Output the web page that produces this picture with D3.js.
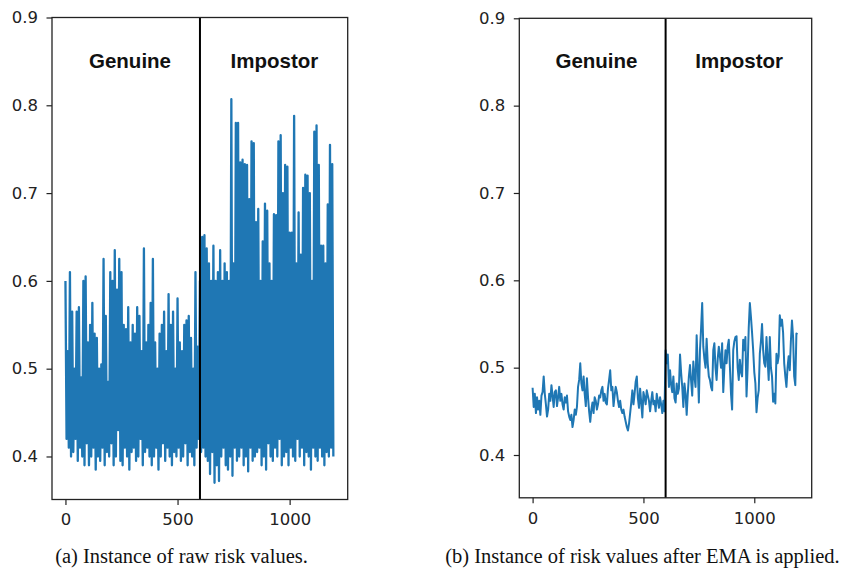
<!DOCTYPE html>
<html>
<head>
<meta charset="utf-8">
<script src="https://cdn.jsdelivr.net/npm/d3@7"></script>
<style>
  body { margin: 0; background: #fff; }
  svg { display: block; }
</style>
</head>
<body>
<svg id="chart"></svg>
<script>
// sample spacing: one value every 5 samples (0 .. 1195)
const sampleStep = 5;
const splitAt = 600;

// raw risk values, alternating peak / trough
const rawValues = [
  0.60,0.42, 0.52,0.41, 0.61,0.40, 0.565,0.405, 0.50,0.42,
  0.565,0.395, 0.57,0.41, 0.49,0.40, 0.60,0.39, 0.605,0.415,
  0.53,0.39, 0.55,0.40, 0.575,0.41, 0.54,0.385, 0.535,0.40,
  0.50,0.395, 0.505,0.41, 0.625,0.39, 0.56,0.405, 0.485,0.40,
  0.61,0.415, 0.60,0.39, 0.635,0.40, 0.59,0.43, 0.625,0.395,
  0.61,0.39, 0.55,0.41, 0.545,0.40, 0.57,0.385, 0.53,0.405,
  0.55,0.41, 0.54,0.395, 0.57,0.40, 0.56,0.42, 0.52,0.39,
  0.637,0.405, 0.53,0.41, 0.55,0.40, 0.575,0.39, 0.625,0.40,
  0.53,0.41, 0.50,0.385, 0.54,0.40, 0.55,0.415, 0.565,0.395,
  0.52,0.41, 0.585,0.40, 0.55,0.39, 0.565,0.405, 0.50,0.40,
  0.58,0.41, 0.53,0.395, 0.52,0.40, 0.55,0.415, 0.555,0.39,
  0.56,0.405, 0.535,0.40, 0.50,0.39, 0.61,0.41, 0.525,0.42,
  0.60,0.405, 0.65,0.41, 0.652,0.40, 0.637,0.395, 0.62,0.38,
  0.60,0.405, 0.64,0.37, 0.60,0.39, 0.61,0.372, 0.635,0.40,
  0.60,0.41, 0.62,0.39, 0.61,0.385, 0.60,0.40, 0.807,0.378,
  0.62,0.41, 0.78,0.395, 0.78,0.40, 0.735,0.41, 0.738,0.39,
  0.733,0.40, 0.732,0.383, 0.693,0.41, 0.759,0.395, 0.757,0.40,
  0.667,0.405, 0.682,0.41, 0.60,0.39, 0.645,0.40, 0.688,0.385,
  0.68,0.415, 0.62,0.40, 0.60,0.395, 0.676,0.41, 0.675,0.40,
  0.759,0.42, 0.766,0.39, 0.70,0.40, 0.732,0.405, 0.73,0.39,
  0.655,0.41, 0.655,0.40, 0.788,0.395, 0.62,0.42, 0.678,0.40,
  0.63,0.41, 0.706,0.39, 0.721,0.405, 0.72,0.40, 0.70,0.385,
  0.60,0.41, 0.77,0.40, 0.777,0.395, 0.732,0.41, 0.64,0.40,
  0.64,0.39, 0.62,0.405, 0.687,0.40, 0.755,0.41, 0.733,0.40
];

// risk values after EMA
const emaValues = [
  0.477,0.455,0.470,0.448,0.466,0.452,0.462,0.446,0.468,0.472,
  0.490,0.470,0.458,0.444,0.452,0.470,0.462,0.480,0.468,0.455,
  0.472,0.474,0.456,0.466,0.478,0.462,0.470,0.458,0.452,0.466,
  0.460,0.468,0.450,0.444,0.440,0.446,0.432,0.440,0.452,0.446,
  0.455,0.478,0.486,0.505,0.482,0.474,0.490,0.470,0.456,0.488,
  0.466,0.450,0.438,0.452,0.460,0.448,0.466,0.462,0.452,0.458,
  0.468,0.466,0.474,0.478,0.462,0.470,0.460,0.458,0.476,0.486,
  0.497,0.474,0.478,0.456,0.468,0.478,0.472,0.462,0.455,0.462,
  0.452,0.448,0.452,0.444,0.438,0.432,0.428,0.436,0.448,0.460,
  0.474,0.458,0.470,0.484,0.490,0.465,0.454,0.476,0.460,0.443,
  0.472,0.466,0.458,0.474,0.468,0.462,0.450,0.462,0.472,0.458,
  0.462,0.450,0.470,0.462,0.454,0.466,0.458,0.448,0.462,0.450,
  0.520,0.505,0.515,0.478,0.497,0.480,0.472,0.490,0.465,0.460,
  0.482,0.470,0.476,0.515,0.494,0.478,0.455,0.482,0.470,0.446,
  0.470,0.490,0.503,0.485,0.468,0.507,0.490,0.478,0.537,0.500,
  0.460,0.520,0.545,0.574,0.524,0.510,0.500,0.533,0.505,0.490,
  0.486,0.478,0.474,0.520,0.528,0.500,0.486,0.510,0.524,0.513,
  0.500,0.528,0.472,0.500,0.520,0.505,0.524,0.532,0.501,0.470,
  0.452,0.520,0.530,0.535,0.536,0.500,0.486,0.509,0.495,0.490,
  0.532,0.520,0.535,0.467,0.500,0.546,0.574,0.558,0.540,0.520,
  0.495,0.482,0.449,0.465,0.474,0.516,0.530,0.550,0.520,0.505,
  0.501,0.535,0.510,0.486,0.535,0.500,0.490,0.461,0.470,0.459,
  0.516,0.505,0.513,0.560,0.548,0.555,0.540,0.505,0.490,0.478,
  0.500,0.513,0.497,0.530,0.554,0.535,0.490,0.480,0.539,0.538
];

const xTicks = [0, 500, 1000];
const yTicks = [0.4, 0.5, 0.6, 0.7, 0.8, 0.9];
const zoneNames = ["Genuine", "Impostor"];
const zoneLabelX = [288, 932];
const zoneLabelY = 0.85;
const captions = [
  "(a) Instance of raw risk values.",
  "(b) Instance of risk values after EMA is applied."
];

const width = 843;
const height = 570;
const blue = "#1f77b4";
const ink = "#222";

const svg = d3.select("#chart")
  .attr("width", width)
  .attr("height", height)
  .attr("viewBox", `0 0 ${width} ${height}`);

const panels = [
  { values: rawValues, lw: 2.3, left: 52, right: 347.7, top: 17.5, bottom: 499.5, caption: captions[0], capX: 181.5 },
  { values: emaValues, lw: 2, left: 519.3, right: 811.7, top: 18.3, bottom: 497.8, caption: captions[1], capX: 642.5 }
];

panels.forEach((p) => {
  const x = d3.scaleLinear().domain([-60, 1259]).range([p.left, p.right]);
  const y = d3.scaleLinear().domain([0.351, 0.9]).range([p.bottom, p.top]);

  const g = svg.append("g");

  // series
  g.append("path")
    .datum(p.values)
    .attr("fill", "none")
    .attr("stroke", blue)
    .attr("stroke-width", p.lw)
    .attr("stroke-linejoin", "round")
    .attr("d", d3.line()
      .x((d, i) => x(i * sampleStep))
      .y((d) => y(d)));

  // split line genuine / impostor
  g.append("line")
    .attr("x1", x(splitAt))
    .attr("x2", x(splitAt))
    .attr("y1", p.top)
    .attr("y2", p.bottom)
    .attr("stroke", "#000")
    .attr("stroke-width", 2);

  // zone labels
  g.selectAll("text.zone")
    .data(zoneNames)
    .join("text")
    .attr("class", "zone")
    .attr("x", (d, i) => x(zoneLabelX[i]))
    .attr("y", y(zoneLabelY))
    .attr("dy", "0.3em")
    .attr("text-anchor", "middle")
    .attr("font-family", "Liberation Sans, Arial, sans-serif")
    .attr("font-weight", "bold")
    .attr("font-size", 20.5)
    .attr("fill", "#111")
    .text((d) => d);

  // axes
  const xAxis = g.append("g")
    .attr("transform", `translate(0,${p.bottom})`)
    .call(d3.axisBottom(x).tickValues(xTicks).tickSize(5.5).tickPadding(8.5).tickFormat(d3.format("d")));
  const yAxis = g.append("g")
    .attr("transform", `translate(${p.left},0)`)
    .call(d3.axisLeft(y).tickValues(yTicks).tickSize(5.5).tickPadding(8.5).tickFormat(d3.format(".1f")));

  [xAxis, yAxis].forEach((a) => {
    a.select(".domain").remove();
    a.selectAll(".tick line").attr("stroke", ink).attr("stroke-width", 1.2);
    a.selectAll(".tick text")
      .attr("fill", ink)
      .attr("font-family", "DejaVu Sans, sans-serif")
      .attr("font-size", 16.5);
  });

  // frame
  g.append("rect")
    .attr("x", p.left)
    .attr("y", p.top)
    .attr("width", p.right - p.left)
    .attr("height", p.bottom - p.top)
    .attr("fill", "none")
    .attr("stroke", ink)
    .attr("stroke-width", 1.3);

  // caption
  svg.append("text")
    .attr("x", p.capX)
    .attr("y", 563)
    .attr("text-anchor", "middle")
    .attr("font-family", "Liberation Serif, Times New Roman, serif")
    .attr("font-size", 20.5)
    .attr("fill", "#111")
    .text(p.caption);
});
</script>
</body>
</html>
